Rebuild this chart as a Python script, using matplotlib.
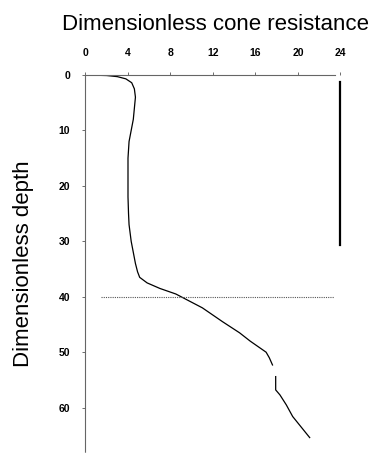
import matplotlib
matplotlib.use("Agg")
import matplotlib.pyplot as plt
import numpy as np

# Data
depth_upper = [0, 0.1, 0.3, 0.7, 1.4, 2.5, 4, 6, 8, 10, 12, 15, 18, 22, 25, 27, 30, 32,
               34, 35.5, 36.5, 37.5, 38.5, 39.5, 40.5, 42, 44.5, 46.5, 48, 50, 51, 52.3]
q_upper = [0, 2.0, 3.0, 3.8, 4.35, 4.6, 4.7, 4.6, 4.5, 4.3, 4.1, 4.0, 4.0, 4.0, 4.05, 4.1, 4.3, 4.5,
           4.7, 4.9, 5.1, 5.8, 7.0, 8.5, 9.5, 11.0, 12.9, 14.5, 15.5, 17.0, 17.3, 17.6]
depth_lower = [54.4, 56.8, 57.7, 59.5, 61.6, 63.5, 65.4]
q_lower = [17.9, 17.9, 18.3, 18.9, 19.5, 20.3, 21.1]

x_ticks = [0, 4, 8, 12, 16, 20, 24]
y_ticks = [0, 10, 20, 30, 40, 50, 60]
x_max, y_max = 24, 68
top_axis_end = 23.5
layer_depth = 40
layer_line_x = [1.5, 23.4]
ref_line_x = 24
ref_line_depth = [1.2, 30.6]

fig = plt.figure(figsize=(3.74, 4.59), dpi=100)
ax = fig.add_axes([0.2286, 0.01525, 0.6818, 0.8214])

ax.plot(q_upper, depth_upper, color="black", lw=0.9)
ax.plot(q_lower, depth_lower, color="black", lw=0.9)
ax.plot(layer_line_x, [layer_depth, layer_depth], color="#555555", lw=0.8, linestyle=(0, (1, 1)))
ax.plot([ref_line_x, ref_line_x], ref_line_depth, color="black", lw=1.6, clip_on=False)

ax.set_xlim(0, x_max)
ax.set_ylim(y_max, 0)
ax.xaxis.tick_top()
ax.set_xticks(x_ticks)
ax.set_yticks(y_ticks)
tickfont = dict(family="Liberation Sans", weight="bold", size=7.5)
ax.set_xticklabels([str(v) for v in x_ticks], **tickfont)
ax.set_yticklabels([str(v) for v in y_ticks], **tickfont)
ax.tick_params(axis="x", length=2, width=0.6, color="#555555", pad=10, direction="out")
ax.tick_params(axis="y", length=2, width=0.6, color="#555555", pad=9, direction="out")

for s in ["right", "bottom"]:
    ax.spines[s].set_visible(False)
for s in ["top", "left"]:
    ax.spines[s].set_color("#666666")
    ax.spines[s].set_linewidth(0.8)
    ax.spines[s].set_linestyle((0, (1, 1)))
ax.spines["top"].set_bounds(0, top_axis_end)
ax.spines["left"].set_bounds(0, y_max)

fig.text(215 / 374, 1 - 24 / 459, "Dimensionless cone resistance", family="Liberation Sans",
         size=16, ha="center", va="center")
fig.text(24 / 374, 1 - 264 / 459, "Dimensionless depth", family="Liberation Sans",
         size=16, ha="center", va="center", rotation=90)

fig.savefig("out.png", dpi=100)
